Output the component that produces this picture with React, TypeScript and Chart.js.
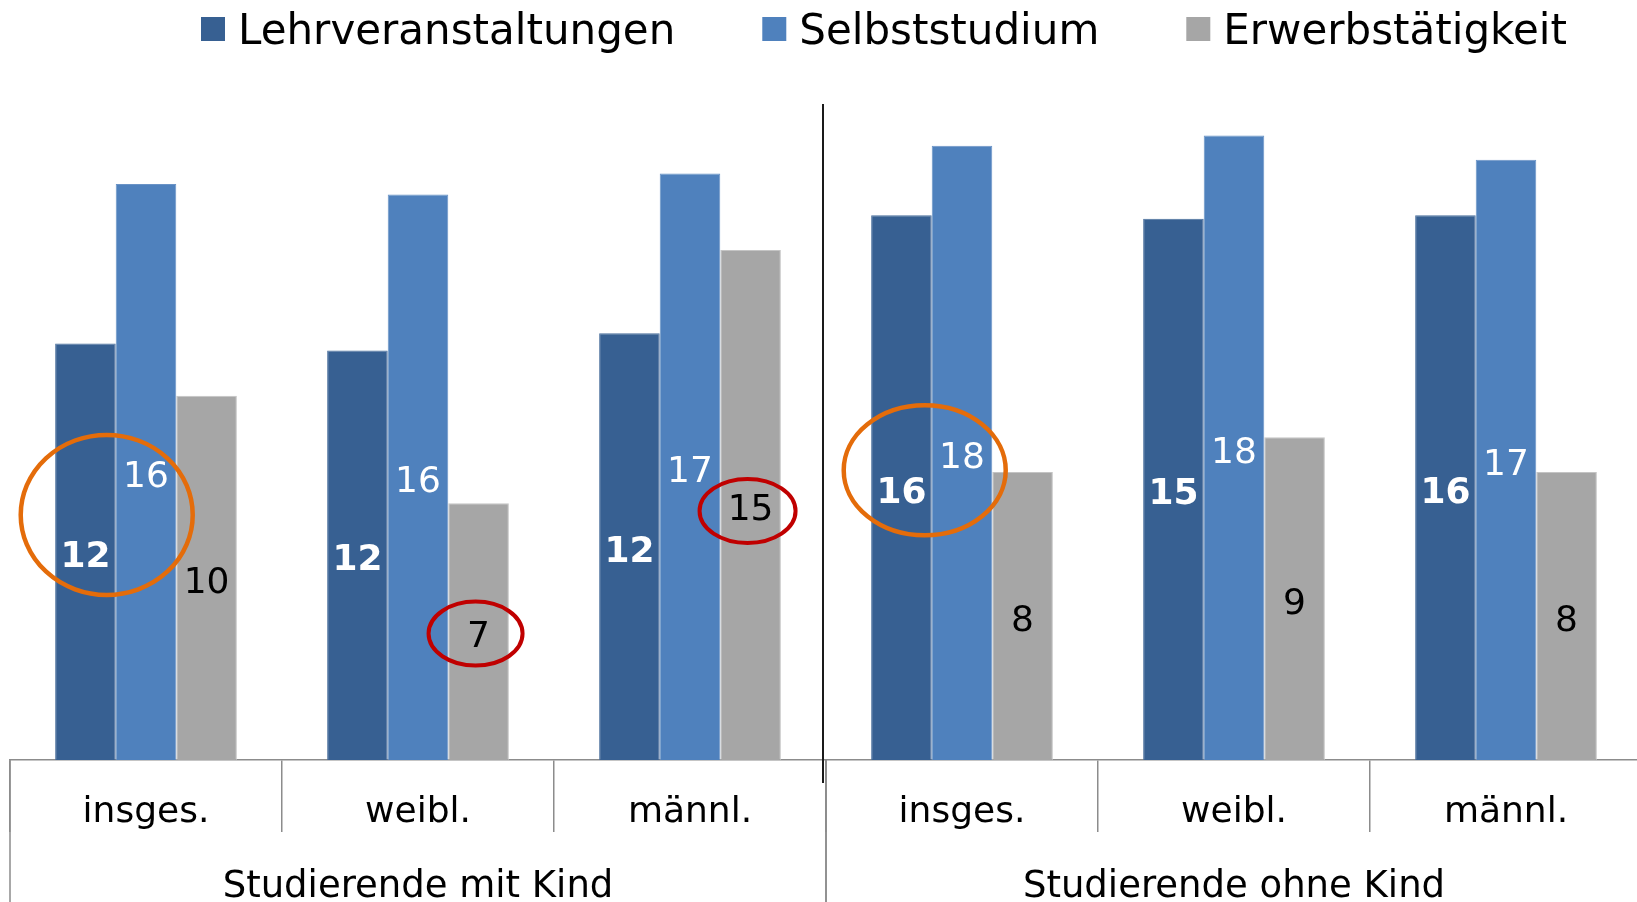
import React, { useEffect, useRef } from "react";
import { Chart, registerables } from "chart.js";

Chart.register(...registerables);

// ---------- data ----------
const categories = ["insges.", "weibl.", "männl.", "insges.", "weibl.", "männl."];
const groupLabels = ["Studierende mit Kind", "Studierende ohne Kind"];
const groupSize = 3;

const seriesNames = ["Lehrveranstaltungen", "Selbststudium", "Erwerbstätigkeit"];

// bar heights
const lehrValues = [12.0, 11.8, 12.3, 15.7, 15.6, 15.7];
const selbstValues = [16.6, 16.3, 16.9, 17.7, 18.0, 17.3];
const erwerbValues = [10.5, 7.4, 14.7, 8.3, 9.3, 8.3];

// printed value labels
const lehrLabels = [12, 12, 12, 16, 15, 16];
const selbstLabels = [16, 16, 17, 18, 18, 17];
const erwerbLabels = [10, 7, 15, 8, 9, 8];

// highlighted items (category index)
const orangeMarks = [0, 3];
const redMarks = [1, 2];

// ---------- styles ----------
const FONT = '"DejaVu Sans", Verdana, sans-serif';
const colors = ["#376092", "#4F81BD", "#A6A6A6"];
const borderColors = ["#4a6f9c", "#6a93c6", "#c4c4c4"];
const labelStyles = [
  { color: "#ffffff", bold: true },
  { color: "#ffffff", bold: false },
  { color: "#000000", bold: false },
];
const orangeStyle = [
  { rx: 86, ry: 80, dx: -9, dy: 3 },
  { rx: 81, ry: 65, dx: -7, dy: 0 },
];
const redStyle = [
  { rx: 47, ry: 32, dx: -3, dy: 2 },
  { rx: 48, ry: 32, dx: -3, dy: 6 },
];

const labelSets = [lehrLabels, selbstLabels, erwerbLabels];

const customPlugin = {
  id: "customDecor",
  afterDatasetsDraw(chart: any) {
    const ctx = chart.ctx;
    const centers: { x: number; y: number }[][] = [];
    chart.data.datasets.forEach((_ds: any, di: number) => {
      const meta = chart.getDatasetMeta(di);
      centers[di] = [];
      meta.data.forEach((bar: any, i: number) => {
        const { x, y, base } = bar.getProps(["x", "y", "base"], true);
        const cy = (y + base) / 2;
        centers[di][i] = { x, y: cy };
        ctx.save();
        ctx.font = `${labelStyles[di].bold ? "bold " : ""}36px ${FONT}`;
        ctx.fillStyle = labelStyles[di].color;
        ctx.textAlign = "center";
        ctx.textBaseline = "alphabetic";
        ctx.fillText(String(labelSets[di][i]), x, cy + 15);
        ctx.restore();
      });
    });

    // orange ellipses around Lehrveranstaltungen + Selbststudium
    orangeMarks.forEach((idx, k) => {
      const st = orangeStyle[k];
      const a = centers[0][idx];
      const b = centers[1][idx];
      const cx = (a.x + b.x) / 2 + st.dx;
      const cy = (a.y + b.y) / 2 + st.dy;
      ctx.save();
      ctx.beginPath();
      ctx.ellipse(cx, cy, st.rx, st.ry, 0, 0, Math.PI * 2);
      ctx.strokeStyle = "#E46C0A";
      ctx.lineWidth = 4.5;
      ctx.stroke();
      ctx.restore();
    });

    // red ellipses around Erwerbstätigkeit labels
    redMarks.forEach((idx, k) => {
      const st = redStyle[k];
      const c = centers[2][idx];
      ctx.save();
      ctx.beginPath();
      ctx.ellipse(c.x + st.dx, c.y + st.dy, st.rx, st.ry, 0, 0, Math.PI * 2);
      ctx.strokeStyle = "#C00000";
      ctx.lineWidth = 4;
      ctx.stroke();
      ctx.restore();
    });
  },
  afterDraw(chart: any) {
    const ctx = chart.ctx;
    const xs = chart.scales.x;
    const area = chart.chartArea;
    const catW = xs.getPixelForValue(1) - xs.getPixelForValue(0);
    const H = chart.height;

    // group boundary lines and group labels
    const nGroups = groupLabels.length;
    for (let g = 0; g < nGroups; g++) {
      const left = xs.getPixelForValue(g * groupSize) - catW / 2;
      const right = xs.getPixelForValue(g * groupSize + groupSize - 1) + catW / 2;
      ctx.save();
      ctx.strokeStyle = "#8c8c8c";
      ctx.lineWidth = 1.5;
      ctx.beginPath();
      ctx.moveTo(left, area.bottom);
      ctx.lineTo(left, H);
      ctx.moveTo(right, area.bottom);
      ctx.lineTo(right, H);
      ctx.stroke();
      ctx.font = `37px ${FONT}`;
      ctx.fillStyle = "#000";
      ctx.textAlign = "center";
      ctx.textBaseline = "alphabetic";
      ctx.fillText(groupLabels[g], (left + right) / 2, 897);
      ctx.restore();
    }

    // black separator between groups
    for (let g = 1; g < nGroups; g++) {
      const sx = xs.getPixelForValue(g * groupSize) - catW / 2 - 3;
      ctx.save();
      ctx.strokeStyle = "#1a1a1a";
      ctx.lineWidth = 2;
      ctx.beginPath();
      ctx.moveTo(sx, 104);
      ctx.lineTo(sx, 783);
      ctx.stroke();
      ctx.restore();
    }

    // legend
    ctx.save();
    ctx.font = `42px ${FONT}`;
    ctx.textBaseline = "alphabetic";
    ctx.textAlign = "left";
    let lx = 201;
    chart.data.datasets.forEach((ds: any, i: number) => {
      ctx.fillStyle = colors[i];
      ctx.fillRect(lx, 17, 24, 24);
      ctx.fillStyle = "#000";
      ctx.fillText(ds.label, lx + 37, 43.5);
      lx += 37 + ctx.measureText(ds.label).width + 87;
    });
    ctx.restore();
  },
};

export default function App() {
  const ref = useRef<HTMLCanvasElement | null>(null);

  useEffect(() => {
    if (!ref.current) return;
    Chart.defaults.font.family = FONT;
    const values = [lehrValues, selbstValues, erwerbValues];
    const chart = new Chart(ref.current, {
      type: "bar",
      data: {
        labels: categories,
        datasets: seriesNames.map((name, i) => ({
          label: name,
          data: values[i],
          backgroundColor: colors[i],
          borderColor: borderColors[i],
          borderWidth: 1,
          barPercentage: 1,
          categoryPercentage: 0.668,
        })),
      },
      options: {
        responsive: false,
        animation: false,
        devicePixelRatio: 1,
        layout: { padding: { top: 66, left: 10, right: 18, bottom: 0 } },
        plugins: {
          legend: { display: false },
          tooltip: { enabled: false },
        },
        scales: {
          y: { display: false, min: 0, max: 20 },
          x: {
            offset: true,
            grid: {
              display: true,
              offset: true,
              drawOnChartArea: false,
              drawTicks: true,
              tickLength: 72,
              color: "#8c8c8c",
              lineWidth: 1.5,
            },
            border: { display: true, color: "#8c8c8c", width: 1.5 },
            ticks: {
              font: { family: FONT, size: 36 },
              color: "#000",
              padding: -41,
              maxRotation: 0,
              autoSkip: false,
            },
            afterFit: (scale: any) => {
              scale.height = 142;
            },
          },
        },
      },
      plugins: [customPlugin],
    });
    return () => chart.destroy();
  }, []);

  return (
    <div
      style={{
        position: "fixed",
        left: 0,
        top: 0,
        width: 1637,
        height: 902,
        overflow: "hidden",
        background: "#ffffff",
      }}
    >
      <canvas
        ref={ref}
        width={1660}
        height={902}
        style={{ display: "block", width: 1660, height: 902 }}
      />
    </div>
  );
}
